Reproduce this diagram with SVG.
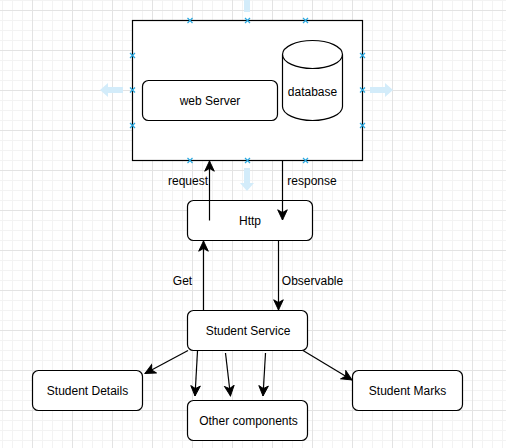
<svg xmlns="http://www.w3.org/2000/svg" width="506" height="448" viewBox="0 0 506 448">
<style>
.box{fill:#fff;stroke:#000;stroke-width:1.2}
.t{font-family:"Liberation Sans",Arial,sans-serif;font-size:12px;fill:#000;text-anchor:middle;dominant-baseline:central}
.e{fill:none;stroke:#000;stroke-width:1.2}
.h{stroke:#29a8e0;stroke-width:1.2}
.ba{fill:#d3ecfa}
</style>
<defs>
<pattern id="grid" x="32" y="10" width="40" height="40" patternUnits="userSpaceOnUse">
<path d="M10.5 0V40M20.5 0V40M30.5 0V40M0 10.5H40M0 20.5H40M0 30.5H40" stroke="#f3f3f3" stroke-width="1"/>
<path d="M0.5 0V40M0 0.5H40" stroke="#e3e3e3" stroke-width="1"/>
</pattern>
<marker id="arr" markerUnits="userSpaceOnUse" markerWidth="12" markerHeight="12" viewBox="0 0 10 10" refX="9" refY="5" orient="auto">
<path d="M0.5,1 L9,5 L0.5,9 L2.8,5 Z" fill="#000" stroke="#000" stroke-width="0.8"/>
</marker>
<g id="hx"><path d="M-2.5,-2.5L2.5,2.5M-2.5,2.5L2.5,-2.5" class="h"/></g>
</defs>
<rect width="506" height="448" fill="#fff"/>
<rect width="506" height="448" fill="url(#grid)"/>

<g id="overlay-arrows">
<path class="ba" d="M100,90 L108,83 L108,87 L123,87 L123,93 L108,93 L108,97 Z"/>
<path class="ba" d="M393,90 L385,83 L385,87 L370,87 L370,93 L385,93 L385,97 Z"/>
<path class="ba" d="M247,191 L240,183 L244,183 L244,168 L250,168 L250,183 L254,183 Z"/>
<path class="ba" d="M247,-11 L240,-3 L244,-3 L244,12 L250,12 L250,-3 L254,-3 Z"/>
</g>

<g id="container">
<rect class="box" x="132.5" y="20.5" width="230" height="140"/>
</g>
<g id="web-server">
<rect class="box" x="142.5" y="80.5" width="135" height="40" rx="6"/>
<text class="t" x="210" y="100.5">web Server</text>
</g>
<g id="database">
<path class="box" d="M282.5,54.5 A30,14 0 0 1 342.5,54.5 V106.5 A30,14 0 0 1 282.5,106.5 Z"/>
<path class="e" d="M282.5,54.5 A30,14 0 0 0 342.5,54.5"/>
<text class="t" x="312.5" y="92">database</text>
</g>
<g id="http">
<rect class="box" x="187.5" y="200.5" width="125" height="40" rx="6"/>
<text class="t" x="250" y="220.5">Http</text>
</g>
<g id="student-service">
<rect class="box" x="187.5" y="310.5" width="120" height="40" rx="6"/>
<text class="t" x="248" y="330.5">Student Service</text>
</g>
<g id="student-details">
<rect class="box" x="32.5" y="370.5" width="110" height="40" rx="6"/>
<text class="t" x="87.5" y="390.5">Student Details</text>
</g>
<g id="other-components">
<rect class="box" x="187.5" y="400.5" width="120" height="40" rx="6"/>
<text class="t" x="248.5" y="420.5">Other components</text>
</g>
<g id="student-marks">
<rect class="box" x="352.5" y="370.5" width="110" height="40" rx="6"/>
<text class="t" x="407.5" y="390.5">Student Marks</text>
</g>

<g id="connectors">
<path class="e" d="M209.5,220.5 V161" marker-end="url(#arr)"/>
<path class="e" d="M282.5,160.5 V220" marker-end="url(#arr)"/>
<path class="e" d="M203.5,310.5 V241" marker-end="url(#arr)"/>
<path class="e" d="M278.5,240.5 V310" marker-end="url(#arr)"/>
<path class="e" d="M188,350.5 L145,373.5" marker-end="url(#arr)"/>
<path class="e" d="M197.5,351 L195,396" marker-end="url(#arr)"/>
<path class="e" d="M225.5,353 L230.5,396" marker-end="url(#arr)"/>
<path class="e" d="M265.5,353 L263,396" marker-end="url(#arr)"/>
<path class="e" d="M303,350.5 L352,380" marker-end="url(#arr)"/>
<text class="t" x="188" y="181">request</text>
<text class="t" x="312" y="181">response</text>
<text class="t" x="182.5" y="281">Get</text>
<text class="t" x="312.5" y="281">Observable</text>
</g>

<g id="handles">
<use href="#hx" x="190" y="20.5"/><use href="#hx" x="247.5" y="20.5"/><use href="#hx" x="305.5" y="20.5"/>
<use href="#hx" x="190" y="160.5"/><use href="#hx" x="247.5" y="160.5"/><use href="#hx" x="305.5" y="160.5"/>
<use href="#hx" x="132.5" y="55.5"/><use href="#hx" x="132.5" y="90"/><use href="#hx" x="132.5" y="125.5"/>
<use href="#hx" x="362.5" y="55.5"/><use href="#hx" x="362.5" y="90"/><use href="#hx" x="362.5" y="125.5"/>
</g>
</svg>
